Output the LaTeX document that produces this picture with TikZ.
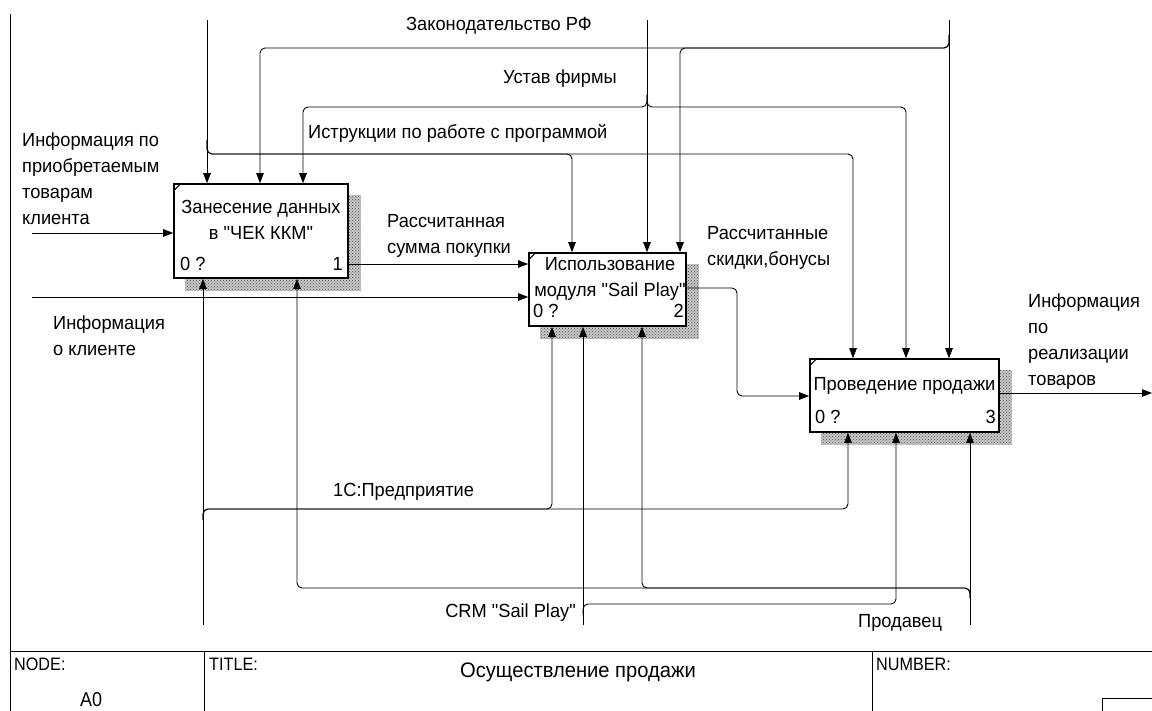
\documentclass[tikz,border=0pt]{standalone}
\usepackage{fontspec}
\setmainfont{Liberation Sans}
\newfontfamily\lf[FakeStretch=0.96]{Liberation Sans}
\newfontfamily\ff[FakeStretch=0.9]{Liberation Sans}
\usetikzlibrary{arrows.meta,patterns}
\pgfdeclarelayer{bg}
\pgfsetlayers{bg,main}
\begin{document}
\begin{tikzpicture}[x=1pt,y=-1pt,
  lbl/.style={font=\lf\fontsize{19}{26}\selectfont, inner sep=0pt, anchor=north west, align=left},
  btxt/.style={font=\lf\fontsize{19}{26}\selectfont, inner sep=0pt, anchor=north, align=center},
  num/.style={font=\lf\fontsize{19}{22}\selectfont, inner sep=0pt},
  ftxt/.style={font=\ff\fontsize{18}{20}\selectfont, inner sep=0pt, anchor=base west},
  proc/.style={draw, line width=1.6pt, fill=white, inner sep=0pt},
  shadowfill/.style={preaction={fill=black!22}, pattern=crosshatch dots, pattern color=black!70},
  arr/.style={line width=0.9pt, rounded corners=5pt, -{Triangle[length=10pt,width=7.5pt]}},
  frame/.style={line width=1pt}]
\useasboundingbox (0,0) rectangle (1152,711);

% process boxes
\node[proc, minimum width=174pt, minimum height=94pt] (b1) at (261,231) {};
\node[proc, minimum width=157pt, minimum height=73pt] (b2) at (607.5,289.5) {};
\node[proc, minimum width=189pt, minimum height=73pt] (b3) at (904.5,395.5) {};
\begin{pgfonlayer}{bg}
\fill[shadowfill] ([shift={(12,12)}]b1.north west) rectangle ([shift={(12,12)}]b1.south east);
\fill[shadowfill] ([shift={(12,12)}]b2.north west) rectangle ([shift={(12,12)}]b2.south east);
\fill[shadowfill] ([shift={(12,12)}]b3.north west) rectangle ([shift={(12,12)}]b3.south east);
\end{pgfonlayer}
\foreach \b in {b1,b2,b3}{
  \draw[line width=1pt] ([yshift=-8pt]\b.north west) -- ([xshift=8pt]\b.north west);
}

% box texts
\node[btxt] (b1t) at (261,200) {Занесение данных\\в "ЧЕК ККМ"};
\node[btxt] (b2t) at (610,257) {Использование\\модуля "Sail Play"};
\node[btxt] (b3t) at (904.5,377) {Проведение продажи};
\node[num, anchor=base west] (b1z) at (180,271) {0 ?};
\node[num, anchor=base east] (b1n) at (343,271) {1};
\node[num, anchor=base west] (b2z) at (533,318) {0 ?};
\node[num, anchor=base east] (b2n) at (684,318) {2};
\node[num, anchor=base west] (b3z) at (815,424) {0 ?};
\node[num, anchor=base east] (b3n) at (996,424) {3};

% coordinates
\coordinate (srcI) at (207,20);
\coordinate (srcU) at (647,20);
\coordinate (srcZ) at (949,20);
\coordinate (jI) at (207,140);
\coordinate (cI2) at (572,154);
\coordinate (cI3) at (853,154);
\coordinate (jU) at (647,95);
\coordinate (cU1) at (303,107);
\coordinate (cU3) at (906,107);
\coordinate (jZ) at (949,35);
\coordinate (cZ1) at (260,48);
\coordinate (cZ2) at (680,48);
\coordinate (in1) at (32,233);
\coordinate (in2) at (32,297);
\coordinate (o1s) at (348,264);
\coordinate (o2s) at (686,288);
\coordinate (o2k) at (737,396);
\coordinate (o3s) at (999,393);
\coordinate (outE) at (1152,393);
\coordinate (m1) at (203,625);
\coordinate (m2) at (583,625);
\coordinate (m3) at (970,625);
\coordinate (jM1) at (203,520);
\coordinate (cM2) at (552,509);
\coordinate (cM3) at (848,509);
\coordinate (jM2) at (583,615);
\coordinate (cC3) at (896,604);
\coordinate (jM3) at (970,598);
\coordinate (cP1) at (297,588);
\coordinate (cP2) at (642,588);

% controls
\draw[arr] (srcI) -- (srcI |- b1.north);
\draw[arr] (jI) |- (cI2) -- (cI2 |- b2.north);
\draw[arr] (jI) |- (cI3) -- (cI3 |- b3.north);
\draw[arr] (srcU) -- (srcU |- b2.north);
\draw[arr] (jU) |- (cU1) -- (cU1 |- b1.north);
\draw[arr] (jU) |- (cU3) -- (cU3 |- b3.north);
\draw[arr] (srcZ) -- (srcZ |- b3.north);
\draw[arr] (jZ) |- (cZ1) -- (cZ1 |- b1.north);
\draw[arr] (jZ) |- (cZ2) -- (cZ2 |- b2.north);

% inputs and outputs
\draw[arr] (in1) -- (in1 -| b1.west);
\draw[arr] (in2) -- (in2 -| b2.west);
\draw[arr] (o1s) -- (o1s -| b2.west);
\draw[arr] (o2s) -| (o2k) -- (o2k -| b3.west);
\draw[arr] (o3s) -- (outE);

% mechanisms
\draw[arr] (m1) -- (m1 |- b1.south);
\draw[arr] (jM1) |- (cM2) -- (cM2 |- b2.south);
\draw[arr] (jM1) |- (cM3) -- (cM3 |- b3.south);
\draw[arr] (m2) -- (m2 |- b2.south);
\draw[arr] (jM2) |- (cC3) -- (cC3 |- b3.south);
\draw[arr] (m3) -- (m3 |- b3.south);
\draw[arr] (jM3) |- (cP1) -- (cP1 |- b1.south);
\draw[arr] (jM3) |- (cP2) -- (cP2 |- b2.south);

% arrow labels
\node[lbl] (tZ) at (406,17) {Законодательство РФ};
\node[lbl] (tU) at (503,70) {Устав фирмы};
\node[lbl] (tI) at (308,124) {Иструкции по работе с программой};
\node[lbl] (tIn1) at (22,133) {Информация по\\приобретаемым\\товарам\\клиента};
\node[lbl] (tO1) at (387,214) {Рассчитанная\\сумма покупки};
\node[lbl] (tIn2) at (53,316) {Информация\\о клиенте};
\node[lbl] (tO2) at (707,226) {Рассчитанные\\скидки,бонусы};
\node[lbl] (tO3) at (1028,294) {Информация\\по\\реализации\\товаров};
\node[lbl] (tM1) at (333,483) {1С:Предприятие};
\node[lbl, anchor=north east] (tM2) at (576,604) {CRM "Sail Play"};
\node[lbl] (tM3) at (858,614) {Продавец};

% frame and title block
\draw[frame] (10.5,14) -- (10.5,711);
\draw[frame] (10,651.5) -- (1152,651.5);
\draw[frame] (204,651.5) -- (204,711);
\draw[frame] (872,651.5) -- (872,711);
\draw[frame] (1102,711) -- (1102,698) -- (1152,698);
\node[ftxt] (fN) at (14,670) {NODE:};
\node[font=\ff\fontsize{20}{22}\selectfont, inner sep=0pt, anchor=base west] (fA) at (80,706) {A0};
\node[ftxt] (fT) at (209,670) {TITLE:};
\node[font=\lf\fontsize{21}{24}\selectfont, inner sep=0pt, anchor=base] (fTt) at (578,677) {Осуществление продажи};
\node[ftxt] (fNu) at (876,670) {NUMBER:};
\end{tikzpicture}
\end{document}
